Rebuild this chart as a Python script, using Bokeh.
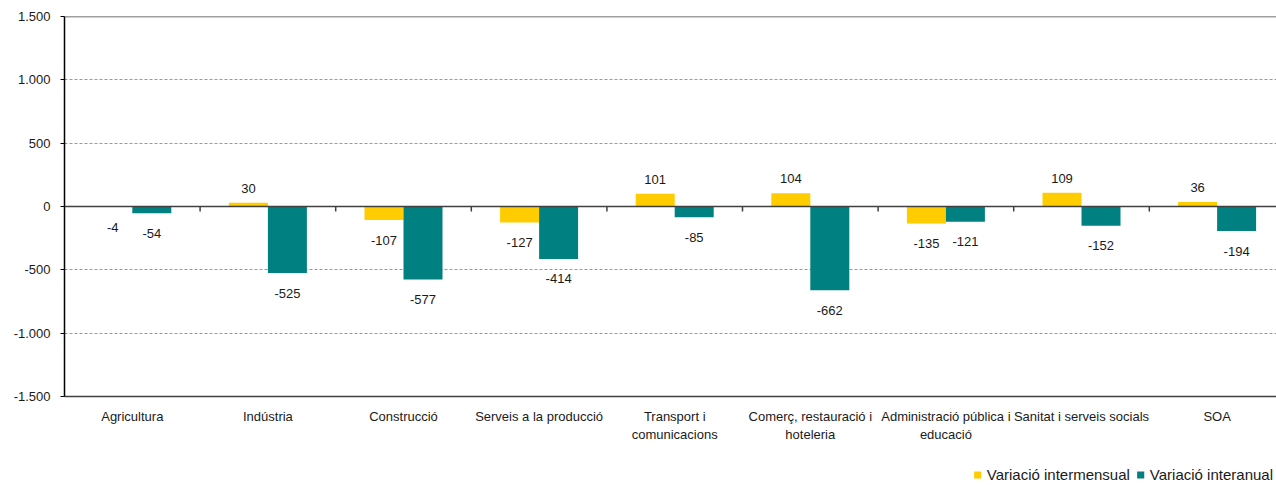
from bokeh.plotting import figure
from bokeh.layouts import column
from bokeh.models import Range1d, FixedTicker, Span, Legend, LegendItem, ColumnDataSource
from bokeh.core.properties import value
from bokeh.embed import file_html
from bokeh.resources import INLINE

categories = ["Agricultura", "Indústria", "Construcció", "Serveis a la producció",
              "Transport i\ncomunicacions", "Comerç, restauració i\nhoteleria",
              "Administració pública i\neducació", "Sanitat i serveis socials", "SOA"]
intermensual = [-4, 30, -107, -127, 101, 104, -135, 109, 36]
interanual = [-54, -525, -577, -414, -85, -662, -121, -152, -194]
y_ticks = [-1500, -1000, -500, 0, 500, 1000, 1500]
y_tick_labels = ["-1.500", "-1.000", "-500", "0", "500", "1.000", "1.500"]
series_names = ["Variació intermensual", "Variació interanual"]

YELLOW = "#FFCC00"
TEAL = "#008080"
FONT = "Liberation Sans"
FS = "13px"
TXT = "#1a1a1a"

n = len(categories)
bw = 0.2876
centers = [i + 0.5 for i in range(n)]
x_yel = [c - bw / 2 for c in centers]
x_teal = [c + bw / 2 for c in centers]

p = figure(width=1276, height=456, x_range=Range1d(0, 8.938), y_range=Range1d(-1500, 1500),
           output_backend="svg", toolbar_location=None,
           min_border_left=64, min_border_right=0, min_border_top=16, min_border_bottom=60)
p.outline_line_color = None
p.background_fill_color = "white"

# grid
p.xgrid.visible = False
p.ygrid.ticker = FixedTicker(ticks=y_ticks)
p.ygrid.grid_line_color = "#999999"
p.ygrid.grid_line_dash = "3 2"
p.ygrid.grid_line_width = 1

# bars
p.vbar(x=x_yel, top=intermensual, bottom=0, width=bw, fill_color=YELLOW, line_color=None)
p.vbar(x=x_teal, top=interanual, bottom=0, width=bw, fill_color=TEAL, line_color=None)

# top line and zero line
p.add_layout(Span(location=y_ticks[-1], dimension="width", line_color="#404040", line_width=1.5))
p.add_layout(Span(location=0, dimension="width", line_color="#404040", line_width=1.5))

# category ticks on zero line
px = 3000 / 380.0
bounds = list(range(1, n + 1))
p.segment(x0=bounds, x1=bounds, y0=[0] * n, y1=[-5 * px] * n, line_color="#404040", line_width=1.5)

# value labels
def label_y(v, up=14.5, down=20):
    return v + up * px if v >= 0 else v - down * px

src = ColumnDataSource(dict(
    x=x_yel + x_teal,
    y=[label_y(v) for v in intermensual] + [label_y(v) for v in interanual],
    t=[str(v) for v in intermensual] + [str(v) for v in interanual],
))
p.text(x="x", y="y", text="t", source=src, text_align="center", text_baseline="middle",
       text_font=value(FONT), text_font_size=FS, text_color=TXT)

# y axis
p.yaxis.ticker = FixedTicker(ticks=y_ticks)
p.yaxis.major_label_overrides = {t: l for t, l in zip(y_ticks, y_tick_labels)}
p.yaxis.axis_line_color = "black"
p.yaxis.axis_line_width = 1.5
p.yaxis.major_tick_line_color = "black"
p.yaxis.major_tick_out = 4
p.yaxis.major_tick_in = 0
p.yaxis.minor_tick_line_color = None
p.yaxis.major_label_standoff = 10
p.yaxis.major_label_text_font = FONT
p.yaxis.major_label_text_font_size = FS
p.yaxis.major_label_text_color = TXT

# x axis
p.xaxis.ticker = FixedTicker(ticks=centers)
p.xaxis.major_label_overrides = {c: l for c, l in zip(centers, categories)}
p.xaxis.axis_line_color = "#404040"
p.xaxis.axis_line_width = 1.5
p.xaxis.major_tick_line_color = None
p.xaxis.minor_tick_line_color = None
p.xaxis.major_label_standoff = 6
p.xaxis.major_label_text_font = FONT
p.xaxis.major_label_text_font_size = FS
p.xaxis.major_label_text_color = TXT

# legend strip (renderers use the series data but lie outside this strip's visible range)
lg = figure(width=1276, height=30, x_range=Range1d(0, 1), y_range=Range1d(5000, 6000),
            output_backend="svg", toolbar_location=None, min_border=0)
lg.axis.visible = False
lg.grid.visible = False
lg.outline_line_color = None
l1 = lg.vbar(x=x_yel, top=intermensual, bottom=0, width=bw, fill_color=YELLOW, line_color=None)
l2 = lg.vbar(x=x_teal, top=interanual, bottom=0, width=bw, fill_color=TEAL, line_color=None)
legend = Legend(items=[LegendItem(label=series_names[0], renderers=[l1]),
                       LegendItem(label=series_names[1], renderers=[l2])],
                orientation="horizontal", location="bottom_right",
                glyph_width=9, glyph_height=9, label_standoff=5, spacing=6,
                padding=0, margin=3, border_line_color=None, background_fill_alpha=0,
                label_text_font=FONT, label_text_font_size="15px", label_text_color=TXT)
lg.add_layout(legend, "center")

layout = column(p, lg, spacing=0)
open("out.html", "w").write(file_html(layout, INLINE))
